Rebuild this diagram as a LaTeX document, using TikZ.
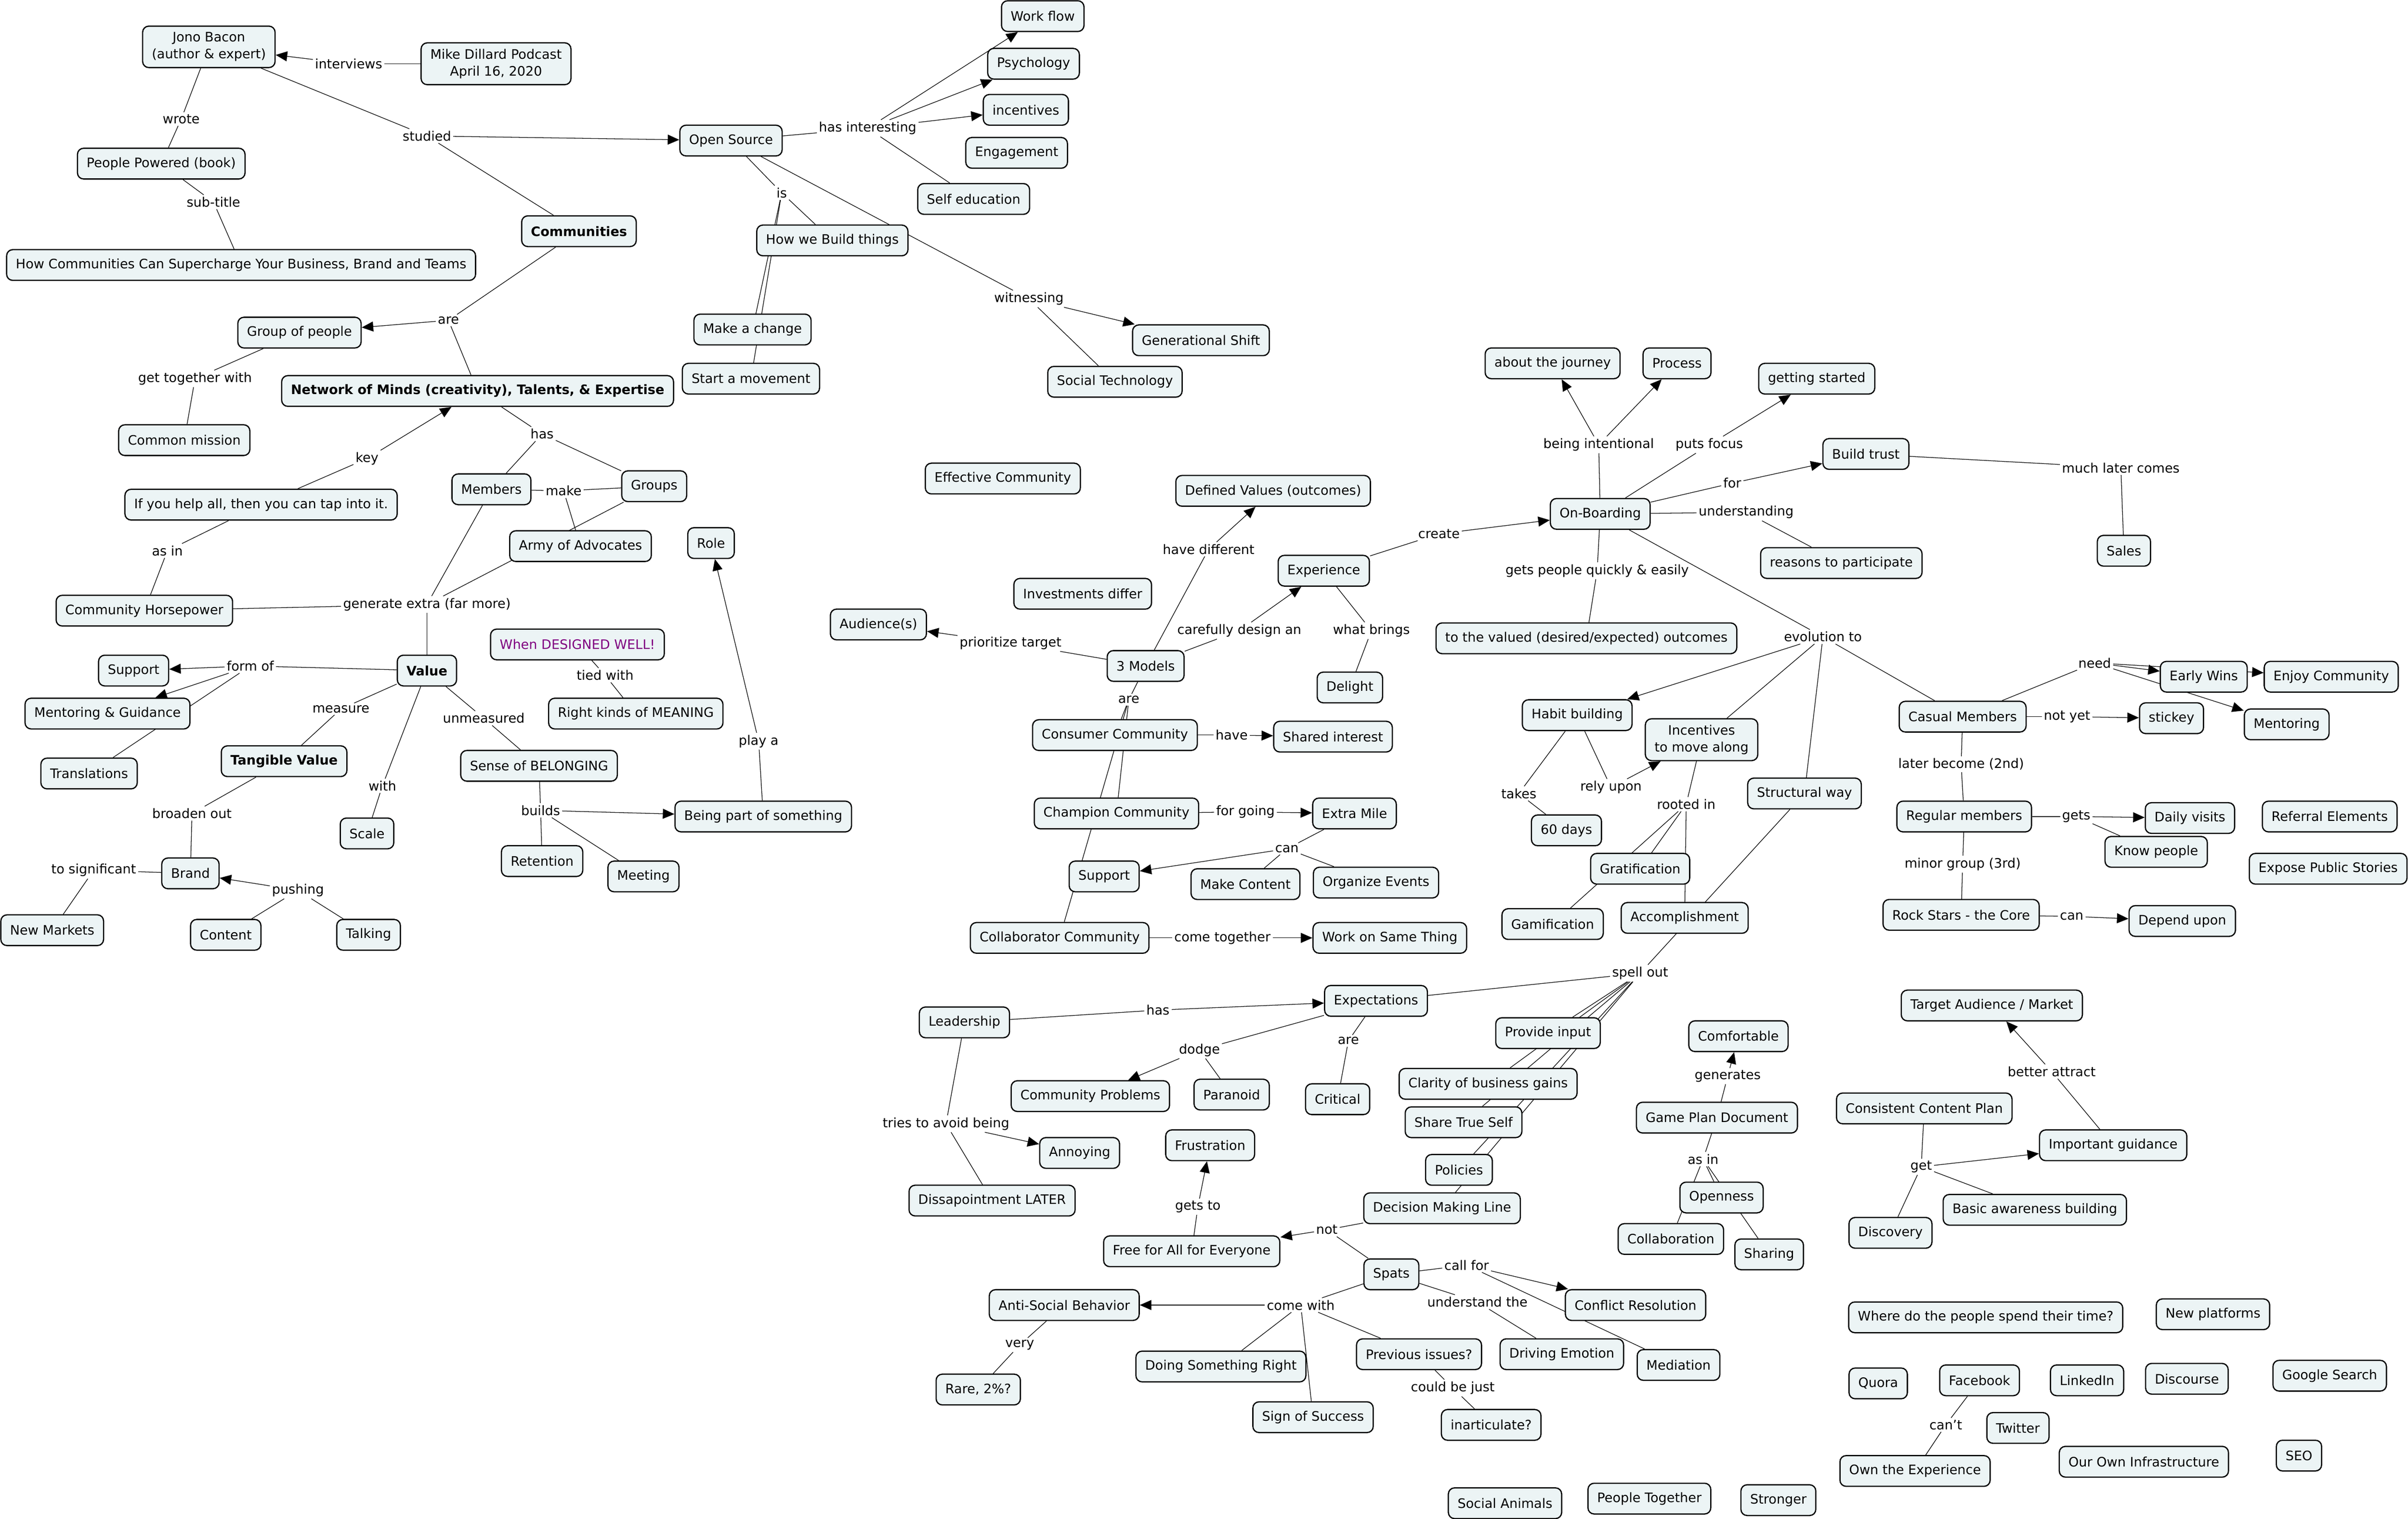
\documentclass[tikz,border=0pt]{standalone}
\usepackage{fontspec}
\setmainfont{DejaVu Sans}
\usetikzlibrary{arrows.meta,backgrounds}
\definecolor{cmapfill}{RGB}{236,244,245}
\definecolor{cmappurple}{RGB}{128,0,128}
\newcommand\cmapfont{\fontsize{8.5}{11}\selectfont}

\begin{document}
\begin{tikzpicture}[x=1pt, y=-1pt, line width=0.8pt, >={Triangle[length=7.5pt,width=6.5pt]},
        concept/.style={draw, rounded corners=4pt, fill=cmapfill, inner xsep=6pt, inner ysep=4pt, minimum height=20pt, align=center, font=\cmapfont},
        boldconcept/.style={concept, font=\cmapfont\bfseries},
        phrase/.style={inner sep=1pt, font=\cmapfont}]

        \path[use as bounding box] (0,0) rectangle (1568,988.6);

        % concepts, left part
        \node[concept] (jono) at (136,30.5) {Jono Bacon\\(author \& expert)};
        \node[concept] (mike) at (323,41.5) {Mike Dillard Podcast\\April 16, 2020};
        \node[concept] (book) at (105,106.5) {People Powered (book)};
        \node[concept] (subt) at (157,172.5) {How Communities Can Supercharge Your Business, Brand and Teams};
        \node[boldconcept] (comm) at (377,150.5) {Communities};
        \node[concept] (group) at (195,216.5) {Group of people};
        \node[concept] (mission) at (120,286.5) {Common mission};
        \node[boldconcept] (network) at (311,254.5) {Network of Minds (creativity), Talents, \& Expertise};
        \node[concept] (helpall) at (170,328.5) {If you help all, then you can tap into it.};
        \node[concept] (horse) at (94,397.5) {Community Horsepower};
        \node[concept] (members) at (320,318.5) {Members};
        \node[concept] (groups) at (426,316.5) {Groups};
        \node[concept] (army) at (378,355.5) {Army of Advocates};
        \node[boldconcept] (value) at (278,436.5) {Value};
        \node[concept] (supportA) at (87,436.5) {Support};
        \node[concept] (mentorg) at (70,464.5) {Mentoring \& Guidance};
        \node[concept] (transl) at (58,503.5) {Translations};
        \node[boldconcept] (tangible) at (185,495.5) {Tangible Value};
        \node[concept] (brand) at (124,568.5) {Brand};
        \node[concept] (markets) at (34,605.5) {New Markets};
        \node[concept] (content) at (147,608.5) {Content};
        \node[concept] (talking) at (240,608.5) {Talking};
        \node[concept] (scale) at (239,542.5) {Scale};
        \node[concept] (belong) at (351,498.5) {Sense of BELONGING};
        \node[concept] (retention) at (353,560.5) {Retention};
        \node[concept] (meeting) at (419,570.5) {Meeting};
        \node[concept] (beingpart) at (497,531.5) {Being part of something};
        \node[concept] (role) at (463,353.5) {Role};
        \node[concept, text=cmappurple] (designed) at (376,419.5) {When DESIGNED WELL!};
        \node[concept] (meaning) at (414,464.5) {Right kinds of MEANING};

        % concepts, open source
        \node[concept] (os) at (476,91.5) {Open Source};
        \node[concept] (workflow) at (679,10.5) {Work flow};
        \node[concept] (psych) at (673,41.5) {Psychology};
        \node[concept] (incent) at (668,71.5) {incentives};
        \node[concept] (engage) at (662,99.5) {Engagement};
        \node[concept] (selfedu) at (634,129.5) {Self education};
        \node[concept] (build) at (542,156.5) {How we Build things};
        \node[concept] (change) at (490,214.5) {Make a change};
        \node[concept] (movement) at (489,246.5) {Start a movement};
        \node[concept] (genshift) at (782,221.5) {Generational Shift};
        \node[concept] (socialtech) at (726,248.5) {Social Technology};
        \node[concept] (effective) at (653,311.5) {Effective Community};

        % concepts, models
        \node[concept] (defvalues) at (829,319.5) {Defined Values (outcomes)};
        \node[concept] (invest) at (705,386.5) {Investments differ};
        \node[concept] (audience) at (572,406.5) {Audience(s)};
        \node[concept] (models) at (746,433.5) {3 Models};
        \node[concept] (experience) at (862,371.5) {Experience};
        \node[concept] (delight) at (879,447.5) {Delight};
        \node[concept] (consumer) at (726,478.5) {Consumer Community};
        \node[concept] (shared) at (868,479.5) {Shared interest};
        \node[concept] (champion) at (727,529.5) {Champion Community};
        \node[concept] (extramile) at (882,529.5) {Extra Mile};
        \node[concept] (supportB) at (719,570.5) {Support};
        \node[concept] (makecontent) at (811,575.5) {Make Content};
        \node[concept] (events) at (896,574.5) {Organize Events};
        \node[concept] (collab) at (690,610.5) {Collaborator Community};
        \node[concept] (samething) at (905,610.5) {Work on Same Thing};

        % concepts, on-boarding
        \node[concept] (onboard) at (1042,334.5) {On-Boarding};
        \node[concept] (journey) at (1011,236.5) {about the journey};
        \node[concept] (process) at (1092,236.5) {Process};
        \node[concept] (started) at (1183,246.5) {getting started};
        \node[concept] (trust) at (1215,295.5) {Build trust};
        \node[concept] (sales) at (1383,358.5) {Sales};
        \node[concept] (reasons) at (1199,366.5) {reasons to participate};
        \node[concept] (valued) at (1033,415.5) {to the valued (desired/expected) outcomes};
        \node[concept] (habit) at (1027,465.5) {Habit building};
        \node[concept] (days) at (1020,540.5) {60 days};
        \node[concept] (incmove) at (1108,481.5) {Incentives\\to move along};
        \node[concept] (grat) at (1068,565.5) {Gratification};
        \node[concept] (gamif) at (1011,601.5) {Gamification};
        \node[concept] (accompl) at (1097,597.5) {Accomplishment};
        \node[concept] (structural) at (1175,516.5) {Structural way};

        % concepts, members
        \node[concept] (casual) at (1278,466.5) {Casual Members};
        \node[concept] (earlywins) at (1435,440.5) {Early Wins};
        \node[concept] (enjoy) at (1518,440.5) {Enjoy Community};
        \node[concept] (mentoring) at (1489,471.5) {Mentoring};
        \node[concept] (stickey) at (1414,467.5) {stickey};
        \node[concept] (regular) at (1279,531.5) {Regular members};
        \node[concept] (daily) at (1426,532.5) {Daily visits};
        \node[concept] (know) at (1404,554.5) {Know people};
        \node[concept] (referral) at (1517,531.5) {Referral Elements};
        \node[concept] (expose) at (1516,565.5) {Expose Public Stories};
        \node[concept] (rockstars) at (1277,595.5) {Rock Stars - the Core};
        \node[concept] (depend) at (1421,599.5) {Depend upon};

        % concepts, expectations
        \node[concept] (expect) at (896,651.5) {Expectations};
        \node[concept] (leader) at (628,665.5) {Leadership};
        \node[concept] (critical) at (871,715.5) {Critical};
        \node[concept] (problems) at (710,713.5) {Community Problems};
        \node[concept] (paranoid) at (802,712.5) {Paranoid};
        \node[concept] (annoying) at (703,750.5) {Annoying};
        \node[concept] (disapp) at (646,781.5) {Dissapointment LATER};
        \node[concept] (frustration) at (788,745.5) {Frustration};
        \node[concept] (freeall) at (776,814.5) {Free for All for Everyone};
        \node[concept] (decision) at (939,786.5) {Decision Making Line};
        \node[concept] (input) at (1008,672.5) {Provide input};
        \node[concept] (clarity) at (969,705.5) {Clarity of business gains};
        \node[concept] (trueself) at (953,730.5) {Share True Self};
        \node[concept] (policies) at (950,761.5) {Policies};
        \node[concept] (spats) at (906,829.5) {Spats};
        \node[concept] (conflict) at (1065,849.5) {Conflict Resolution};
        \node[concept] (mediation) at (1093,888.5) {Mediation};
        \node[concept] (emotion) at (1017,881.5) {Driving Emotion};
        \node[concept] (antisocial) at (693,849.5) {Anti-Social Behavior};
        \node[concept] (rare) at (637,904.5) {Rare, 2\%?};
        \node[concept] (doing) at (795,889.5) {Doing Something Right};
        \node[concept] (success) at (855,922.5) {Sign of Success};
        \node[concept] (previous) at (924,881.5) {Previous issues?};
        \node[concept] (inartic) at (971,927.5) {inarticulate?};
        \node[concept] (animals) at (980,978.5) {Social Animals};
        \node[concept] (together) at (1074,975.5) {People Together};
        \node[concept] (stronger) at (1158,976.5) {Stronger};
        \node[concept] (comfort) at (1132,674.5) {Comfortable};
        \node[concept] (gameplan) at (1118,727.5) {Game Plan Document};
        \node[concept] (openness) at (1121,779.5) {Openness};
        \node[concept] (collaboration) at (1088,806.5) {Collaboration};
        \node[concept] (sharing) at (1152,816.5) {Sharing};

        % concepts, audience
        \node[concept] (targetaud) at (1297,654.5) {Target Audience / Market};
        \node[concept] (guidance) at (1376,745.5) {Important guidance};
        \node[concept] (consistent) at (1253,721.5) {Consistent Content Plan};
        \node[concept] (discovery) at (1231,802.5) {Discovery};
        \node[concept] (awareness) at (1325,787.5) {Basic awareness building};
        \node[concept] (where) at (1293,857.5) {Where do the people spend their time?};
        \node[concept] (platforms) at (1441,855.5) {New platforms};
        \node[concept] (quora) at (1223,900.5) {Quora};
        \node[concept] (facebook) at (1289,898.5) {Facebook};
        \node[concept] (ownexp) at (1247,957.5) {Own the Experience};
        \node[concept] (twitter) at (1314,929.5) {Twitter};
        \node[concept] (linkedin) at (1359,898.5) {LinkedIn};
        \node[concept] (discourse) at (1424,897.5) {Discourse};
        \node[concept] (google) at (1517,895.5) {Google Search};
        \node[concept] (infra) at (1396,951.5) {Our Own Infrastructure};
        \node[concept] (seo) at (1497,947.5) {SEO};

        % linking phrases
        \node[phrase] (interviews) at (227,41.5) {interviews};
        \node[phrase] (wrote) at (118,77.5) {wrote};
        \node[phrase] (subtitle) at (139,131.5) {sub-title};
        \node[phrase] (studied) at (278,88.5) {studied};
        \node[phrase] (areComm) at (292,208.5) {are};
        \node[phrase] (gettogether) at (127,246.5) {get together with};
        \node[phrase] (key) at (239,298.5) {key};
        \node[phrase] (asinA) at (109,358.5) {as in};
        \node[phrase] (hasNet) at (353,282.5) {has};
        \node[phrase] (make) at (367,319.5) {make};
        \node[phrase] (generate) at (278,393.5) {generate extra (far more)};
        \node[phrase] (formof) at (163,433.5) {form of};
        \node[phrase] (measure) at (222,461.5) {measure};
        \node[phrase] (broaden) at (125,529.5) {broaden out};
        \node[phrase] (tosig) at (61,566.5) {to significant};
        \node[phrase] (pushing) at (194,579.5) {pushing};
        \node[phrase] (with) at (249,511.5) {with};
        \node[phrase] (unmeasured) at (315,467.5) {unmeasured};
        \node[phrase] (builds) at (352,527.5) {builds};
        \node[phrase] (playa) at (494,482.5) {play a};
        \node[phrase] (tiedwith) at (394,439.5) {tied with};
        \node[phrase] (hasint) at (565,83.5) {has interesting};
        \node[phrase] (is) at (509,125.5) {is};
        \node[phrase] (witnessing) at (670,194.5) {witnessing};
        \node[phrase] (havediff) at (787,357.5) {have different};
        \node[phrase] (prioritize) at (658,418.5) {prioritize target};
        \node[phrase] (carefully) at (807,410.5) {carefully design an};
        \node[phrase] (create) at (937,347.5) {create};
        \node[phrase] (whatbrings) at (893,410.5) {what brings};
        \node[phrase] (areModels) at (735,455.5) {are};
        \node[phrase] (have) at (802,478.5) {have};
        \node[phrase] (forgoing) at (811,528.5) {for going};
        \node[phrase] (canExtra) at (838,552.5) {can};
        \node[phrase] (cometogether) at (796,610.5) {come together};
        \node[phrase] (intentional) at (1041,289.5) {being intentional};
        \node[phrase] (putsfocus) at (1113,289.5) {puts focus};
        \node[phrase] (forTrust) at (1128,314.5) {for};
        \node[phrase] (muchlater) at (1381,304.5) {much later comes};
        \node[phrase] (understanding) at (1137,333.5) {understanding};
        \node[phrase] (getspeople) at (1040,371.5) {gets people quickly \& easily};
        \node[phrase] (evolution) at (1187,414.5) {evolution to};
        \node[phrase] (takes) at (989,516.5) {takes};
        \node[phrase] (relyupon) at (1049,512.5) {rely upon};
        \node[phrase] (rootedin) at (1098,523.5) {rooted in};
        \node[phrase] (spellout) at (1068,633.5) {spell out};
        \node[phrase] (need) at (1364,431.5) {need};
        \node[phrase] (notyet) at (1346,466.5) {not yet};
        \node[phrase] (laterbecome) at (1277,497.5) {later become (2nd)};
        \node[phrase] (gets) at (1352,531.5) {gets};
        \node[phrase] (minorgroup) at (1278,562.5) {minor group (3rd)};
        \node[phrase] (canRock) at (1349,596.5) {can};
        \node[phrase] (betterattract) at (1336,697.5) {better attract};
        \node[phrase] (get) at (1251,759.5) {get};
        \node[phrase] (cant) at (1267,927.5) {can't};
        \node[phrase] (hasLead) at (754,657.5) {has};
        \node[phrase] (areExp) at (878,677.5) {are};
        \node[phrase] (dodge) at (781,683.5) {dodge};
        \node[phrase] (tries) at (616,731.5) {tries to avoid being};
        \node[phrase] (getsto) at (780,785.5) {gets to};
        \node[phrase] (notL) at (864,800.5) {not};
        \node[phrase] (callfor) at (955,823.5) {call for};
        \node[phrase] (understandthe) at (962,847.5) {understand the};
        \node[phrase] (comewith) at (847,849.5) {come with};
        \node[phrase] (very) at (664,875.5) {very};
        \node[phrase] (couldbe) at (946,903.5) {could be just};
        \node[phrase] (generates) at (1125,700.5) {generates};
        \node[phrase] (asinB) at (1109,754.5) {as in};

        \begin{pgfonlayer}{background}
        % connectors, left part
        \draw (mike) -- (interviews);
        \draw[->] (interviews) -- (jono);
        \draw (jono) -- (wrote);
        \draw (wrote) -- (book);
        \draw (book) -- (subtitle);
        \draw (subtitle) -- (subt);
        \draw (jono) -- (studied);
        \draw[->] (studied) -- (os);
        \draw (studied) -- (comm);
        \draw (comm) -- (areComm);
        \draw[->] (areComm) -- (group);
        \draw (areComm) -- (network);
        \draw (group) -- (gettogether);
        \draw (gettogether) -- (mission);
        \draw (helpall) -- (key);
        \draw[->] (key) -- (network);
        \draw (helpall) -- (asinA);
        \draw (asinA) -- (horse);
        \draw (network) -- (hasNet);
        \draw (hasNet) -- (members);
        \draw (hasNet) -- (groups);
        \draw (members) -- (make);
        \draw (groups) -- (make);
        \draw (make) -- (army);
        \draw (members) -- (generate);
        \draw (groups) -- (generate);
        \draw (generate) -- (horse);
        \draw (generate) -- (value);
        \draw (value) -- (formof);
        \draw[->] (formof) -- (supportA);
        \draw[->] (formof) -- (mentorg);
        \draw (formof) -- (transl);
        \draw (value) -- (measure);
        \draw (measure) -- (tangible);
        \draw (tangible) -- (broaden);
        \draw (broaden) -- (brand);
        \draw (brand) -- (tosig);
        \draw (tosig) -- (markets);
        \draw (content) -- (pushing);
        \draw (talking) -- (pushing);
        \draw[->] (pushing) -- (brand);
        \draw (value) -- (with);
        \draw (with) -- (scale);
        \draw (value) -- (unmeasured);
        \draw (unmeasured) -- (belong);
        \draw (belong) -- (builds);
        \draw[->] (builds) -- (beingpart);
        \draw (builds) -- (retention);
        \draw (builds) -- (meeting);
        \draw (beingpart) -- (playa);
        \draw[->] (playa) -- (role);
        \draw (designed) -- (tiedwith);
        \draw (tiedwith) -- (meaning);

        % connectors, open source
        \draw (os) -- (hasint);
        \draw[->] (hasint) -- (workflow);
        \draw[->] (hasint) -- (psych);
        \draw[->] (hasint) -- (incent);
        \draw (hasint) -- (selfedu);
        \draw (os) -- (is);
        \draw (is) -- (build);
        \draw (is) -- (change);
        \draw (is) -- (movement);
        \draw (os) -- (witnessing);
        \draw[->] (witnessing) -- (genshift);
        \draw (witnessing) -- (socialtech);

        % connectors, models
        \draw (models) -- (havediff);
        \draw[->] (havediff) -- (defvalues);
        \draw (models) -- (prioritize);
        \draw[->] (prioritize) -- (audience);
        \draw (models) -- (carefully);
        \draw[->] (carefully) -- (experience);
        \draw (experience) -- (create);
        \draw[->] (create) -- (onboard);
        \draw (experience) -- (whatbrings);
        \draw (whatbrings) -- (delight);
        \draw (models) -- (areModels);
        \draw (areModels) -- (consumer);
        \draw (areModels) -- (champion);
        \draw (areModels) -- (collab);
        \draw (consumer) -- (have);
        \draw[->] (have) -- (shared);
        \draw (champion) -- (forgoing);
        \draw[->] (forgoing) -- (extramile);
        \draw (extramile) -- (canExtra);
        \draw[->] (canExtra) -- (supportB);
        \draw (canExtra) -- (makecontent);
        \draw (canExtra) -- (events);
        \draw (collab) -- (cometogether);
        \draw[->] (cometogether) -- (samething);

        % connectors, on-boarding
        \draw (onboard) -- (intentional);
        \draw[->] (intentional) -- (journey);
        \draw[->] (intentional) -- (process);
        \draw (onboard) -- (putsfocus);
        \draw[->] (putsfocus) -- (started);
        \draw (onboard) -- (forTrust);
        \draw[->] (forTrust) -- (trust);
        \draw (trust) -- (muchlater);
        \draw (muchlater) -- (sales);
        \draw (onboard) -- (understanding);
        \draw (understanding) -- (reasons);
        \draw (onboard) -- (getspeople);
        \draw (getspeople) -- (valued);
        \draw (onboard) -- (evolution);
        \draw[->] (evolution) -- (habit);
        \draw (evolution) -- (incmove);
        \draw (evolution) -- (structural);
        \draw (evolution) -- (casual);
        \draw (habit) -- (takes);
        \draw (takes) -- (days);
        \draw (habit) -- (relyupon);
        \draw[->] (relyupon) -- (incmove);
        \draw (incmove) -- (rootedin);
        \draw (rootedin) -- (grat);
        \draw (rootedin) -- (gamif);
        \draw (rootedin) -- (accompl);
        \draw (structural) -- (spellout);
        \draw (spellout) -- (expect);
        \draw (spellout) -- (input);
        \draw (spellout) -- (clarity);
        \draw (spellout) -- (trueself);
        \draw (spellout) -- (policies);
        \draw (spellout) -- (decision);

        % connectors, members
        \draw (casual) -- (need);
        \draw[->] (need) -- (earlywins);
        \draw[->] (need) -- (enjoy);
        \draw[->] (need) -- (mentoring);
        \draw (casual) -- (notyet);
        \draw[->] (notyet) -- (stickey);
        \draw (casual) -- (laterbecome);
        \draw (laterbecome) -- (regular);
        \draw (regular) -- (gets);
        \draw[->] (gets) -- (daily);
        \draw (gets) -- (know);
        \draw (regular) -- (minorgroup);
        \draw (minorgroup) -- (rockstars);
        \draw (rockstars) -- (canRock);
        \draw[->] (canRock) -- (depend);

        % connectors, expectations
        \draw (leader) -- (hasLead);
        \draw[->] (hasLead) -- (expect);
        \draw (expect) -- (areExp);
        \draw (areExp) -- (critical);
        \draw (expect) -- (dodge);
        \draw[->] (dodge) -- (problems);
        \draw (dodge) -- (paranoid);
        \draw (leader) -- (tries);
        \draw[->] (tries) -- (annoying);
        \draw (tries) -- (disapp);
        \draw (freeall) -- (getsto);
        \draw[->] (getsto) -- (frustration);
        \draw (decision) -- (notL);
        \draw[->] (notL) -- (freeall);
        \draw (notL) -- (spats);
        \draw (spats) -- (callfor);
        \draw[->] (callfor) -- (conflict);
        \draw (callfor) -- (mediation);
        \draw (spats) -- (understandthe);
        \draw (understandthe) -- (emotion);
        \draw (spats) -- (comewith);
        \draw[->] (comewith) -- (antisocial);
        \draw (comewith) -- (doing);
        \draw (comewith) -- (success);
        \draw (comewith) -- (previous);
        \draw (antisocial) -- (very);
        \draw (very) -- (rare);
        \draw (previous) -- (couldbe);
        \draw (couldbe) -- (inartic);
        \draw (gameplan) -- (generates);
        \draw[->] (generates) -- (comfort);
        \draw (gameplan) -- (asinB);
        \draw (asinB) -- (openness);
        \draw (asinB) -- (collaboration);
        \draw (asinB) -- (sharing);

        % connectors, audience
        \draw (guidance) -- (betterattract);
        \draw[->] (betterattract) -- (targetaud);
        \draw (consistent) -- (get);
        \draw[->] (get) -- (guidance);
        \draw (get) -- (discovery);
        \draw (get) -- (awareness);
        \draw (facebook) -- (cant);
        \draw (cant) -- (ownexp);
        \end{pgfonlayer}
    \end{tikzpicture}
\end{document}
